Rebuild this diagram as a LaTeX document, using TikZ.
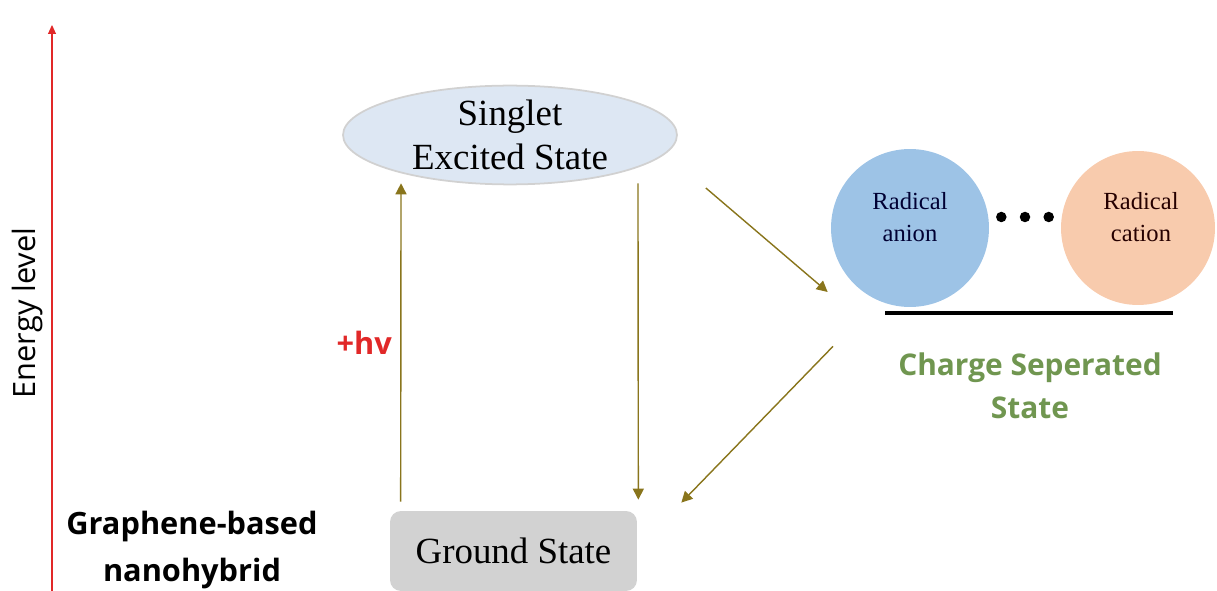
\documentclass[tikz,border=0pt]{standalone}
\usepackage{fontspec}
\setmainfont{Liberation Serif}
\setsansfont{Open Sans}
\usetikzlibrary{arrows.meta,positioning,shapes.geometric}
\definecolor{olivearr}{RGB}{137,117,28}
\definecolor{axisred}{RGB}{225,40,40}
\definecolor{ellfill}{RGB}{221,231,243}
\definecolor{anionfill}{RGB}{157,195,230}
\definecolor{cationfill}{RGB}{248,203,173}
\definecolor{groundfill}{RGB}{210,210,210}
\definecolor{csgreen}{RGB}{112,150,80}
\tikzset{
  excited/.style ={draw=black!18, ellipse, minimum width=6.68cm,
                   minimum height=1.88cm, inner sep=0pt, fill=ellfill,
                   line width=1pt, align=center,
                   font=\fontsize{21}{25}\selectfont},
  ground/.style  ={rectangle, rounded corners=0.22cm, minimum width=4.94cm,
                   minimum height=1.6cm, fill=groundfill,
                   font=\fontsize{21}{25}\selectfont},
  anion/.style   ={circle, minimum size=3.16cm, inner sep=0pt,
                   fill=anionfill},
  cation/.style  ={circle, minimum size=3.08cm, inner sep=0pt,
                   fill=cationfill},
  radlbl/.style  ={align=center, font=\fontsize{14}{18}\selectfont},
  dotnode/.style ={circle, fill=black, minimum size=0.21cm, inner sep=0pt},
  flow/.style    ={-{Triangle[length=2.2mm, width=2.2mm]}, line width=0.8pt,
                   olivearr},
  axisarr/.style ={-{Triangle[length=1.8mm, width=1.6mm]}, line width=0.6pt,
                   axisred},
  sidelbl/.style ={font=\sffamily\bfseries\fontsize{17.5}{26.5}\selectfont,
                   align=center},
  cslbl/.style   ={font=\sffamily\bfseries\fontsize{17}{24.5}\selectfont,
                   align=center, text=csgreen},
}
\begin{document}
\begin{tikzpicture}[x=0.02cm, y=-0.02cm]
  \useasboundingbox (0,0) rectangle (1217,591);
  % energy axis
  \coordinate (ybot) at (52,591);
  \coordinate (ytop) at (52,25);
  \draw[axisarr] (ybot) -- (ytop);
  \node[rotate=90, font=\sffamily\fontsize{17.5}{20}\selectfont] (elvl) at (28,313) {Energy level};
  \node[sidelbl] (hybrid) at (192,550) {Graphene-based\\nanohybrid};
  % states
  \node[excited] (ses) at (510,135) {Singlet\\Excited State};
  \node[ground] (gs) at (513.5,551) {Ground State};
  \node[anion] (ranion) at (910,228) {};
  \node[cation] (rcation) at (1138,228) {};
  \node[radlbl, text=black!80!blue] (anlbl) at ([yshift=0.22cm]ranion.center) {Radical\\anion};
  \node[radlbl, text=black!85!red] (catlbl) at ([xshift=0.06cm, yshift=0.22cm]rcation.center) {Radical\\cation};
  \node[dotnode] (d2) at (1025,217) {};
  \node[dotnode, left=0.25cm of d2] (d1) {};
  \node[dotnode, right=0.25cm of d2] (d3) {};
  \draw[line width=2.8pt] (885,313) -- (1173,313);
  \node[cslbl] (cslabel) at (1030,386) {Charge Seperated\\State};
  % transitions
  \draw[flow] ([xshift=0.22cm, yshift=0.18cm]gs.north west)
    -- node[left=0.05cm, pos=0.5, font=\sffamily\bfseries\fontsize{17.5}{20}\selectfont, text=axisred] (hv) {+hv}
    ([xshift=-2.18cm, yshift=0.04cm]ses.south);
  \draw[flow] ([xshift=2.56cm, yshift=0.04cm]ses.south)
    -- ([xshift=0.02cm, yshift=0.22cm]gs.north east);
  \draw[flow] ([xshift=0.56cm, yshift=-1.06cm]ses.east)
    -- ([xshift=-0.06cm, yshift=-1.28cm]ranion.west);
  \draw[flow] ([xshift=-1.54cm, yshift=-0.78cm]ranion.south)
    -- ([xshift=0.88cm, yshift=0.16cm]gs.north east);
\end{tikzpicture}
\end{document}
